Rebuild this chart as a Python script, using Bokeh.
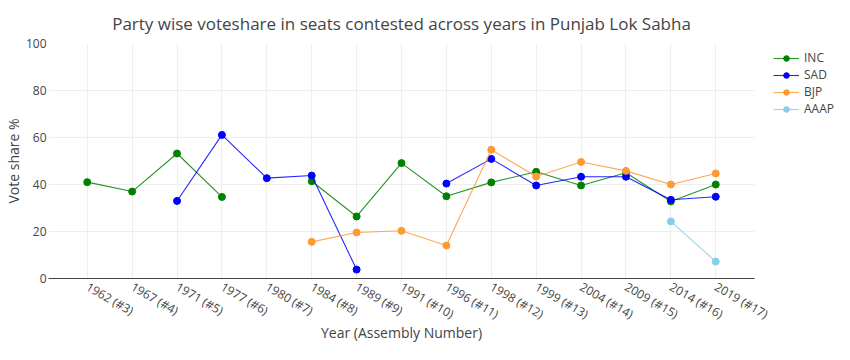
import numpy as np
from bokeh.plotting import figure
from bokeh.models import Range1d, FixedTicker, Legend, LegendItem, ColumnDataSource
from bokeh.embed import file_html
from bokeh.resources import INLINE

nan = float("nan")

years = ["1962 (#3)", "1967 (#4)", "1971 (#5)", "1977 (#6)", "1980 (#7)",
         "1984 (#8)", "1989 (#9)", "1991 (#10)", "1996 (#11)", "1998 (#12)",
         "1999 (#13)", "2004 (#14)", "2009 (#15)", "2014 (#16)", "2019 (#17)"]

inc = [41.0, 37.0, 53.2, 34.7, nan, 41.4, 26.4, 49.1, 35.0, 40.9, 45.4, 39.6, 45.0, 32.8, 40.0]
sad = [nan, nan, 33.0, 61.1, 42.7, 43.8, 3.8, nan, 40.4, 50.9, 39.6, 43.3, 43.3, 33.5, 34.8]
bjp = [nan, nan, nan, nan, nan, 15.6, 19.6, 20.3, 14.0, 54.8, 43.4, 49.6, 45.8, 40.0, 44.7]
aaap = [nan, nan, nan, nan, nan, nan, nan, nan, nan, nan, nan, nan, nan, 24.3, 7.2]

parties = ["INC", "SAD", "BJP", "AAAP"]
series = [inc, sad, bjp, aaap]
colors = ["#008000", "#0000ff", "#ff9933", "#87ceeb"]
y_ticks = [0, 20, 40, 60, 80, 100]

title_text = "Party wise voteshare in seats contested across years in Punjab Lok Sabha"
FONT = "Open Sans"
TXT = "#444444"

x_idx = list(range(len(years)))
FW = 706

p = figure(frame_width=FW, frame_height=235, output_backend="svg", toolbar_location=None,
           x_range=Range1d(-0.863, len(years) - 1 + 0.863), y_range=Range1d(0, 100),
           min_border_left=30, min_border_right=86, min_border_top=0, min_border_bottom=50)
p.outline_line_color = None
p.background_fill_color = "white"

p.title.text = title_text
p.title.text_font = FONT
p.title.text_font_size = "17px"
p.title.text_font_style = "normal"
p.title.text_color = TXT
p.title.align = "center"
p.title.offset = 13
p.title.standoff = 18

# axes
xa = p.xaxis[0]
xa.ticker = FixedTicker(ticks=x_idx)
xa.major_label_overrides = {i: y for i, y in enumerate(years)}
xa.major_label_orientation = -np.pi / 6
xa.major_label_text_font = FONT
xa.major_label_text_font_size = "12px"
xa.major_label_text_color = TXT
xa.major_label_standoff = 7
xa.major_tick_line_color = None
xa.major_tick_out = 0
xa.major_tick_in = 0
xa.minor_tick_line_color = None
xa.minor_tick_out = 0
xa.minor_tick_in = 0
xa.axis_line_color = TXT
xa.axis_line_width = 1
xa.axis_label = "Year (Assembly Number)"
xa.axis_label_text_font = FONT
xa.axis_label_text_font_size = "14px"
xa.axis_label_text_font_style = "normal"
xa.axis_label_text_color = TXT
xa.axis_label_standoff = -10

ya = p.yaxis[0]
ya.ticker = FixedTicker(ticks=y_ticks)
ya.major_label_text_font = FONT
ya.major_label_text_font_size = "12px"
ya.major_label_text_color = TXT
ya.major_label_standoff = 2
ya.major_tick_line_color = None
ya.major_tick_out = 0
ya.major_tick_in = 0
ya.minor_tick_line_color = None
ya.minor_tick_out = 0
ya.minor_tick_in = 0
ya.axis_line_color = None
ya.axis_label = "Vote share %"
ya.axis_label_text_font = FONT
ya.axis_label_text_font_size = "14px"
ya.axis_label_text_font_style = "normal"
ya.axis_label_text_color = TXT
ya.axis_label_standoff = 0

p.xgrid.grid_line_color = "#eeeeee"
p.ygrid.grid_line_color = "#eeeeee"
p.xgrid.ticker = FixedTicker(ticks=x_idx)
p.ygrid.ticker = FixedTicker(ticks=y_ticks)

items = []
for name, vals, col in zip(parties, series, colors):
    src = ColumnDataSource(dict(x=x_idx, y=vals))
    ln = p.line("x", "y", source=src, line_color=col, line_width=1.1, line_alpha=0.85)
    sc = p.scatter("x", "y", source=src, size=7, fill_color=col, line_color=col)
    items.append(LegendItem(label=name, renderers=[ln, sc]))

legend = Legend(items=items, location=(19, 161))
legend.label_text_font = FONT
legend.label_text_font_size = "12px"
legend.label_text_color = TXT
legend.glyph_width = 26
legend.glyph_height = 14
legend.label_height = 14
legend.label_standoff = 5
legend.spacing = 0
legend.padding = 0
legend.margin = 0
legend.border_line_color = None
legend.background_fill_alpha = 0
p.add_layout(legend, "right")

open("out.html", "w").write(file_html(p, INLINE))
